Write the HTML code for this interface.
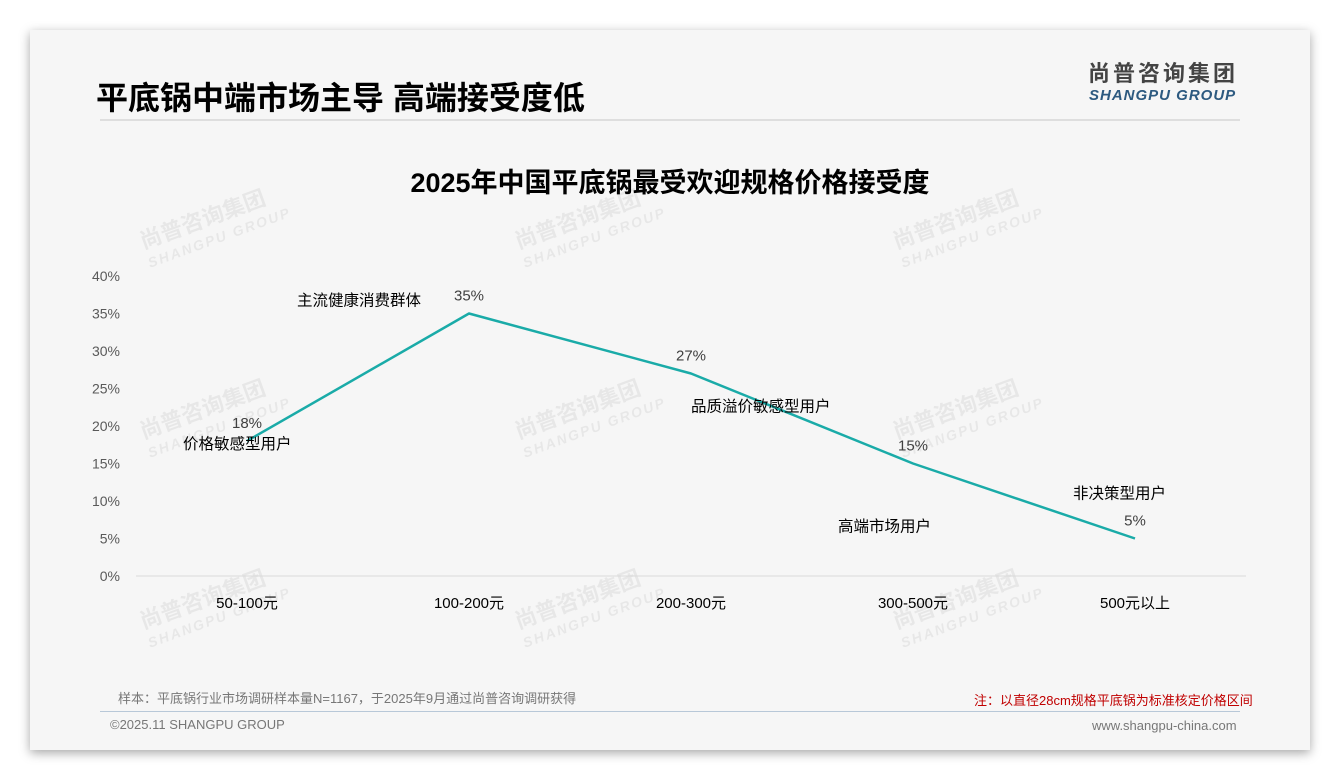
<!DOCTYPE html>
<html><head><meta charset="utf-8"><style>
body{margin:0;width:1340px;height:780px;background:#fff;font-family:"Liberation Sans","Noto Sans CJK SC",sans-serif;overflow:hidden;position:relative}
.card{position:absolute;left:30px;top:30px;width:1280px;height:720px;background:#f6f6f6;box-shadow:0 3px 10px rgba(0,0,0,.35)}
.t{position:absolute;white-space:nowrap}
.wm{position:absolute;color:rgba(0,0,0,.06);font-weight:bold;transform:rotate(-20deg);font-size:22px;line-height:22px}
.wm span{display:block;font-size:14px;font-style:italic;letter-spacing:2px}
</style></head><body>
<div class="card"></div>
<div class="t" style="left:96px;top:73px;font-size:32px;font-weight:bold;color:#000">平底锅中端市场主导 高端接受度低</div>
<div class="t" style="left:1088px;top:60px;font-size:22px;line-height:28px;font-weight:bold;color:#444;letter-spacing:3px">尚普咨询集团</div>
<div class="t" style="left:1089px;top:87px;font-size:15px;line-height:18px;font-weight:bold;font-style:italic;color:#2d5a80;letter-spacing:1px">SHANGPU GROUP</div>
<div style="position:absolute;left:100px;top:119px;width:1140px;height:2px;background:#dedede"></div>
<div class="t" style="left:0;width:1340px;text-align:center;top:161px;font-size:27px;font-weight:bold;color:#000">2025年中国平底锅最受欢迎规格价格接受度</div>
<div class="wm" style="left:140px;top:205px">尚普咨询集团<span>SHANGPU GROUP</span></div>
<div class="wm" style="left:515px;top:205px">尚普咨询集团<span>SHANGPU GROUP</span></div>
<div class="wm" style="left:893px;top:205px">尚普咨询集团<span>SHANGPU GROUP</span></div>
<div class="wm" style="left:140px;top:395px">尚普咨询集团<span>SHANGPU GROUP</span></div>
<div class="wm" style="left:515px;top:395px">尚普咨询集团<span>SHANGPU GROUP</span></div>
<div class="wm" style="left:893px;top:395px">尚普咨询集团<span>SHANGPU GROUP</span></div>
<div class="wm" style="left:140px;top:585px">尚普咨询集团<span>SHANGPU GROUP</span></div>
<div class="wm" style="left:515px;top:585px">尚普咨询集团<span>SHANGPU GROUP</span></div>
<div class="wm" style="left:893px;top:585px">尚普咨询集团<span>SHANGPU GROUP</span></div>
<svg id="chart" width="1340" height="780" style="position:absolute;left:0;top:0"></svg>
<div class="t" style="left:118px;top:688px;font-size:13px;color:#777">样本：平底锅行业市场调研样本量N=1167，于2025年9月通过尚普咨询调研获得</div>
<div class="t" style="left:974px;top:690px;font-size:13px;color:#c00000">注：以直径28cm规格平底锅为标准核定价格区间</div>
<div style="position:absolute;left:100px;top:711px;width:1140px;height:1px;background:#b8c8d8"></div>
<div class="t" style="left:110px;top:717px;font-size:13px;color:#777">©2025.11 SHANGPU GROUP</div>
<div class="t" style="left:1092px;top:718px;font-size:13px;color:#777">www.shangpu-china.com</div>
<script>
const categories=["50-100元","100-200元","200-300元","300-500元","500元以上"];
const values=[18,35,27,15,5];
const segments=["价格敏感型用户","主流健康消费群体","品质溢价敏感型用户","高端市场用户","非决策型用户"];
const yTicks=[0,5,10,15,20,25,30,35,40];
const segOffsets=[[-64,8],[-172,-8],[0,38],[-75,68],[-62,-40]];
const svg=document.getElementById('chart');const NS='http://www.w3.org/2000/svg';
const x0=136,x1=1246,yb=576,yt=276,ymax=40;
const xs=i=>x0+(x1-x0)*(i+0.5)/categories.length;
const ys=v=>yb-(yb-yt)*v/ymax;
function mk(tag,a,txt){const e=document.createElementNS(NS,tag);for(const k in a)e.setAttribute(k,a[k]);if(txt!=null)e.textContent=txt;svg.appendChild(e);return e;}
let e=mk('line',{x1:x0,x2:x1,y1:yb,y2:yb,stroke:'#d9d9d9','stroke-width':1});


yTicks.forEach(t=>{const l=mk('text',{x:120,y:ys(t)+5,'text-anchor':'end','font-size':14,fill:'#595959','font-family':'Liberation Sans'},t+'%');

});
categories.forEach((c,i)=>{const l=mk('text',{x:xs(i),y:608,'text-anchor':'middle','font-size':15,fill:'#000','font-family':'Liberation Sans, Noto Sans CJK SC'},c);

});
const p=mk('polyline',{points:values.map((v,i)=>xs(i)+','+ys(v)).join(' '),fill:'none',stroke:'#1aaba8','stroke-width':2.5,'stroke-linejoin':'round'});


values.forEach((v,i)=>{const l=mk('text',{x:xs(i),y:ys(v)-13,'text-anchor':'middle','font-size':15,fill:'#404040','font-family':'Liberation Sans'},v+'%');


const s=mk('text',{x:xs(i)+segOffsets[i][0],y:ys(v)+segOffsets[i][1],'font-size':15.5,fill:'#000','font-family':'Liberation Sans, Noto Sans CJK SC'},segments[i]);

});
</script>
</body></html>
